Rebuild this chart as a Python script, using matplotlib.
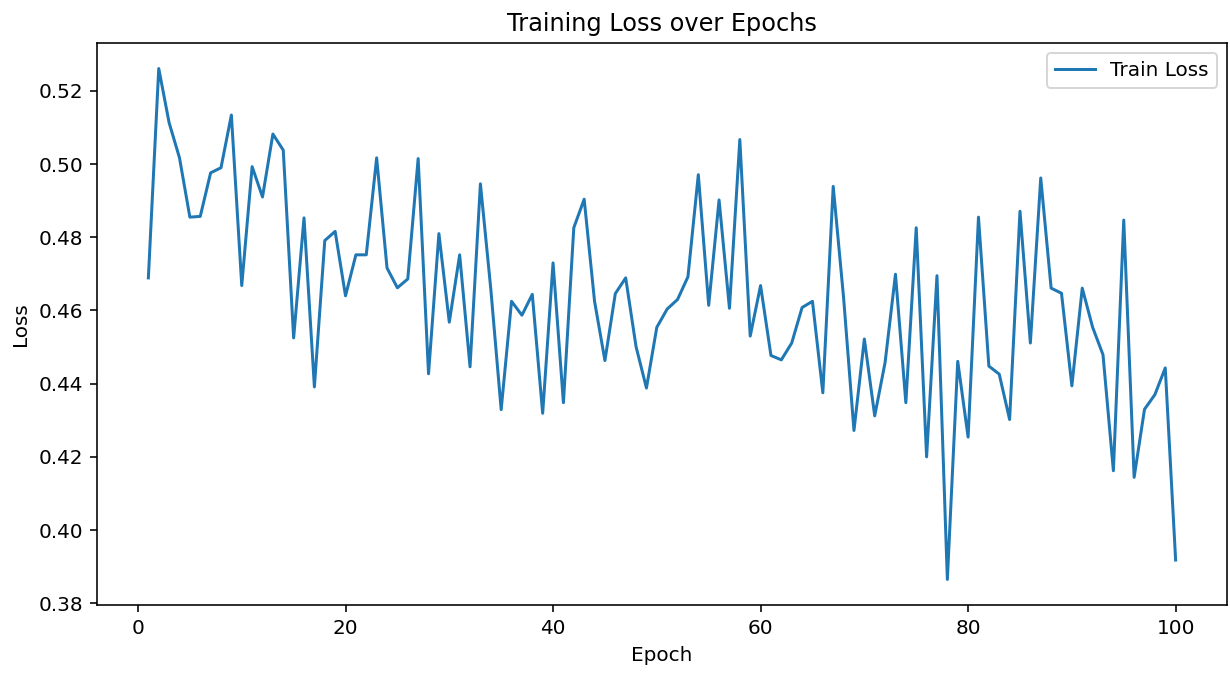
import matplotlib
matplotlib.use("Agg")
import matplotlib.pyplot as plt

epochs = list(range(1, 101))
train_loss = [
    0.4689, 0.5261, 0.5113, 0.5017, 0.4855, 0.4857, 0.4976, 0.4990, 0.5134, 0.4668,
    0.4993, 0.4910, 0.5082, 0.5038, 0.4525, 0.4853, 0.4391, 0.4791, 0.4816, 0.4640,
    0.4752, 0.4752, 0.5017, 0.4716, 0.4662, 0.4686, 0.5015, 0.4427, 0.4810, 0.4568,
    0.4752, 0.4446, 0.4946, 0.4659, 0.4329, 0.4625, 0.4587, 0.4644, 0.4319, 0.4730,
    0.4348, 0.4826, 0.4904, 0.4625, 0.4463, 0.4646, 0.4689, 0.4501, 0.4388, 0.4554,
    0.4604, 0.4630, 0.4692, 0.4971, 0.4614, 0.4902, 0.4606, 0.5067, 0.4530, 0.4668,
    0.4477, 0.4465, 0.4511, 0.4608, 0.4625, 0.4375, 0.4939, 0.4635, 0.4272, 0.4522,
    0.4312, 0.4458, 0.4699, 0.4348, 0.4826, 0.4200, 0.4695, 0.3865, 0.4461, 0.4254,
    0.4855, 0.4448, 0.4426, 0.4302, 0.4871, 0.4511, 0.4962, 0.4661, 0.4647, 0.4394,
    0.4661, 0.4554, 0.4479, 0.4162, 0.4847, 0.4144, 0.4330, 0.4370, 0.4443, 0.3918,
]

DPI = 144
fig = plt.figure(figsize=(1230 / DPI, 673 / DPI), dpi=DPI)
ax = fig.add_axes([97/1230, 1 - 605/673, (1227 - 97)/1230, (605 - 43)/673])
ax.plot(epochs, train_loss, label="Train Loss")
ax.set_title("Training Loss over Epochs")
ax.set_xlabel("Epoch")
ax.set_ylabel("Loss")
ax.legend(loc="upper right")
fig.savefig("out.png", dpi=DPI)
